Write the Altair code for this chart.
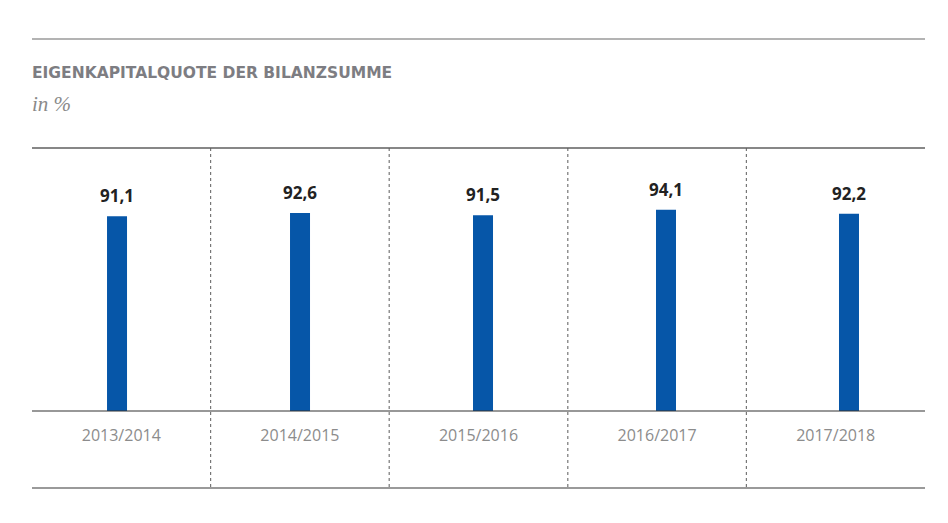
import altair as alt
import pandas as pd

years = ["2013/2014", "2014/2015", "2015/2016", "2016/2017", "2017/2018"]
values = [91.1, 92.6, 91.5, 94.1, 92.2]
title_text = ["EIGENKAPITALQUOTE DER BILANZSUMME"]
subtitle_text = ["in %"]

W, H = 893, 263

df = pd.DataFrame({"year": years, "value": values})
one = pd.DataFrame({"k": [0]})

band_scale = alt.Scale(type="band", domain=years, paddingInner=0, paddingOuter=0)
point_scale = alt.Scale(type="point", domain=years, padding=0.44, align=0.528)
y_enc = alt.Y("value:Q", scale=alt.Scale(domain=[0, 123]), axis=None)

base = alt.Chart(df)

bars = base.mark_bar(size=20, color="#0656a8").encode(
    x=alt.X("year:N", scale=point_scale, axis=None), y=y_enc
)

value_labels = base.transform_calculate(
    lbl="replace(format(datum.value, '.1f'), '.', ',')"
).mark_text(
    font="Open Sans", fontSize=17, fontWeight="bold", color="#222222",
    baseline="alphabetic", dy=-14
).encode(
    x=alt.X("year:N", scale=point_scale, axis=None), y=y_enc, text="lbl:N"
)

cat_labels = base.mark_text(
    font="Open Sans", fontSize=16, color="#8c8c8c", baseline="middle"
).encode(
    x=alt.X("year:N", scale=band_scale, axis=None),
    y=alt.value(288),
    text="year:N",
)

separators = base.transform_filter(alt.datum.year != years[0]).mark_rule(
    strokeDash=[3, 3], color="#777777", strokeWidth=1.2
).encode(
    x=alt.X("year:N", scale=band_scale, axis=None, bandPosition=0),
    y=alt.value(0),
    y2=alt.value(340),
)

def hline(yv, color, width):
    return alt.Chart(one).mark_rule(color=color, strokeWidth=width).encode(
        x=alt.value(0), x2=alt.value(W), y=alt.value(yv)
    )

top_line = hline(-109, "#9a9a9a", 1.5)
header_line = hline(0, "#5f5f5f", 1.5)
base_line = hline(263, "#333333", 1.2)
bottom_line = hline(340, "#9a9a9a", 2)

title = alt.Chart(pd.DataFrame({"t": title_text})).mark_text(
    font="DejaVu Sans", fontSize=15.5, fontWeight="bold", color="#7d7d82",
    align="left", baseline="alphabetic"
).encode(x=alt.value(0), y=alt.value(-70), text="t:N")

subtitle = alt.Chart(pd.DataFrame({"t": subtitle_text})).mark_text(
    font="Liberation Serif", fontSize=21, fontStyle="italic", color="#8a8a8a",
    align="left", baseline="alphabetic"
).encode(x=alt.value(0), y=alt.value(-37), text="t:N")

chart = alt.layer(
    separators, bars, value_labels, cat_labels,
    top_line, header_line, base_line, bottom_line, title, subtitle
).resolve_scale(x="independent").properties(
    width=W, height=H,
    autosize=alt.AutoSizeParams(type="none"),
    padding={"left": 24, "top": 140, "right": 15, "bottom": 104},
    background="white",
).configure_view(strokeWidth=0)

chart.save("out.html", embed_options={"renderer": "svg", "actions": False})
